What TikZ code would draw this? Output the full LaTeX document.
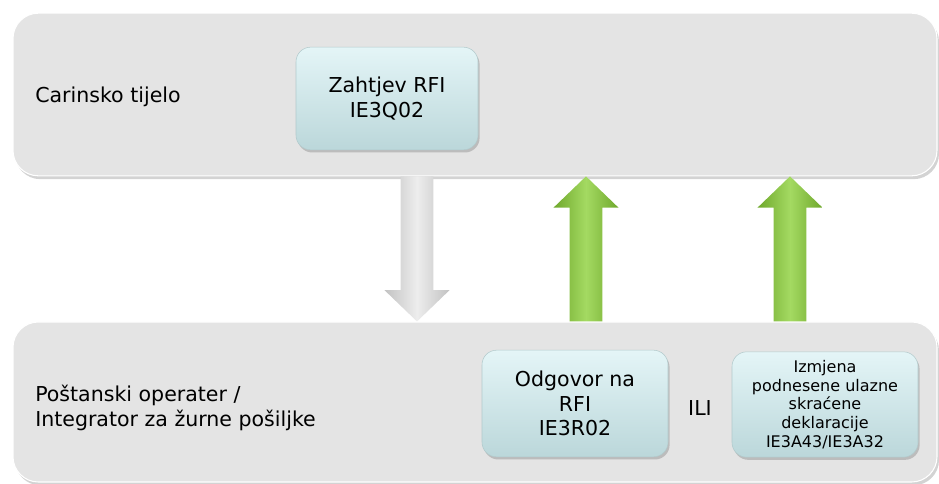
\documentclass[tikz,border=0pt]{standalone}
\usepackage{fontspec}
\setmainfont{DejaVu Sans}
\usetikzlibrary{calc,shadows}
\definecolor{bandgray}{HTML}{E4E4E4}
\definecolor{boxtop}{HTML}{E4F5F7}
\definecolor{boxbot}{HTML}{BBD7DA}
\definecolor{arrowgreen}{HTML}{A4DA62}
\definecolor{arrowgreendk}{HTML}{6FA82C}
\definecolor{arrowgray}{HTML}{EDEDED}
\definecolor{arrowgraydk}{HTML}{C2C2C2}
\tikzset{
  band/.style={rounded corners=19pt, fill=bandgray, draw=white, line width=0.8pt,
    drop shadow={shadow xshift=1.5pt, shadow yshift=-2.5pt, opacity=0.35},
    minimum width=693pt, minimum height=122pt, inner sep=0pt},
  msgbox/.style={rounded corners=11pt, top color=boxtop, bottom color=boxbot,
    draw=boxbot!85!gray, line width=0.4pt,
    drop shadow={shadow xshift=1.2pt, shadow yshift=-2pt, opacity=0.4},
    align=center, inner sep=0pt, minimum width=139.5pt, minimum height=79pt,
    font=\fontsize{15.4}{18.5}\selectfont},
  smallbox/.style={msgbox, font=\fontsize{12}{14}\selectfont},
  bandlabel/.style={anchor=west, align=left, inner sep=0pt, font=\fontsize{15.4}{19}\selectfont},
  greyarrow/.style={left color=arrowgraydk, right color=arrowgraydk, middle color=arrowgray},
  greenarrow/.style={left color=arrowgreendk, right color=arrowgreendk, middle color=arrowgreen},
}
% vertical block arrow: style, from, to
\newcommand{\blockarrow}[3]{%
  \path[#1] let \p1=(#2), \p2=(#3), \n1={ifthenelse(\y2>\y1,1,-1)} in
    (\x1-12.3pt,\y1) -- (\x1-12.3pt,\y2-\n1*23.5pt) -- (\x1-24.4pt,\y2-\n1*23.5pt)
    -- (\x2,\y2) -- (\x1+24.4pt,\y2-\n1*23.5pt) -- (\x1+12.3pt,\y2-\n1*23.5pt)
    -- (\x1+12.3pt,\y1) -- cycle;}
\begin{document}
\begin{tikzpicture}[x=0.75pt, y=-0.75pt]
  \useasboundingbox (0,0) rectangle (939,484);
  \node[band] (customs) at (475,94.5) {};
  \node[band, minimum height=120pt] (operator) at (475,402) {};
  \node[bandlabel] (customslbl) at (35,97) {Carinsko tijelo};
  \node[bandlabel] (operatorlbl) at (35,408) {Poštanski operater /\\Integrator za žurne pošiljke};

  \node[msgbox, minimum width=136.5pt, minimum height=77pt] (req) at (387,98.5) {Zahtjev RFI\\IE3Q02};
  \node[msgbox, minimum height=80pt] (ans) at (575,403.5) {Odgovor na\\RFI\\IE3R02};
  \node[font=\fontsize{15.4}{18.5}\selectfont] (ili) at (700,408) {ILI};
  \node[smallbox] (ens) at (825,404.5) {Izmjena\\podnesene ulazne\\skraćene\\deklaracije\\IE3A43/IE3A32};

  \coordinate (downx) at (417,0);
  \coordinate (upx) at (586,0);
  \coordinate (upxx) at (790,0);
  \blockarrow{greyarrow}{customs.south -| downx}{operator.north -| downx}
  \blockarrow{greenarrow}{operator.north -| upx}{customs.south -| upx}
  \blockarrow{greenarrow}{operator.north -| upxx}{customs.south -| upxx}
\end{tikzpicture}
\end{document}
